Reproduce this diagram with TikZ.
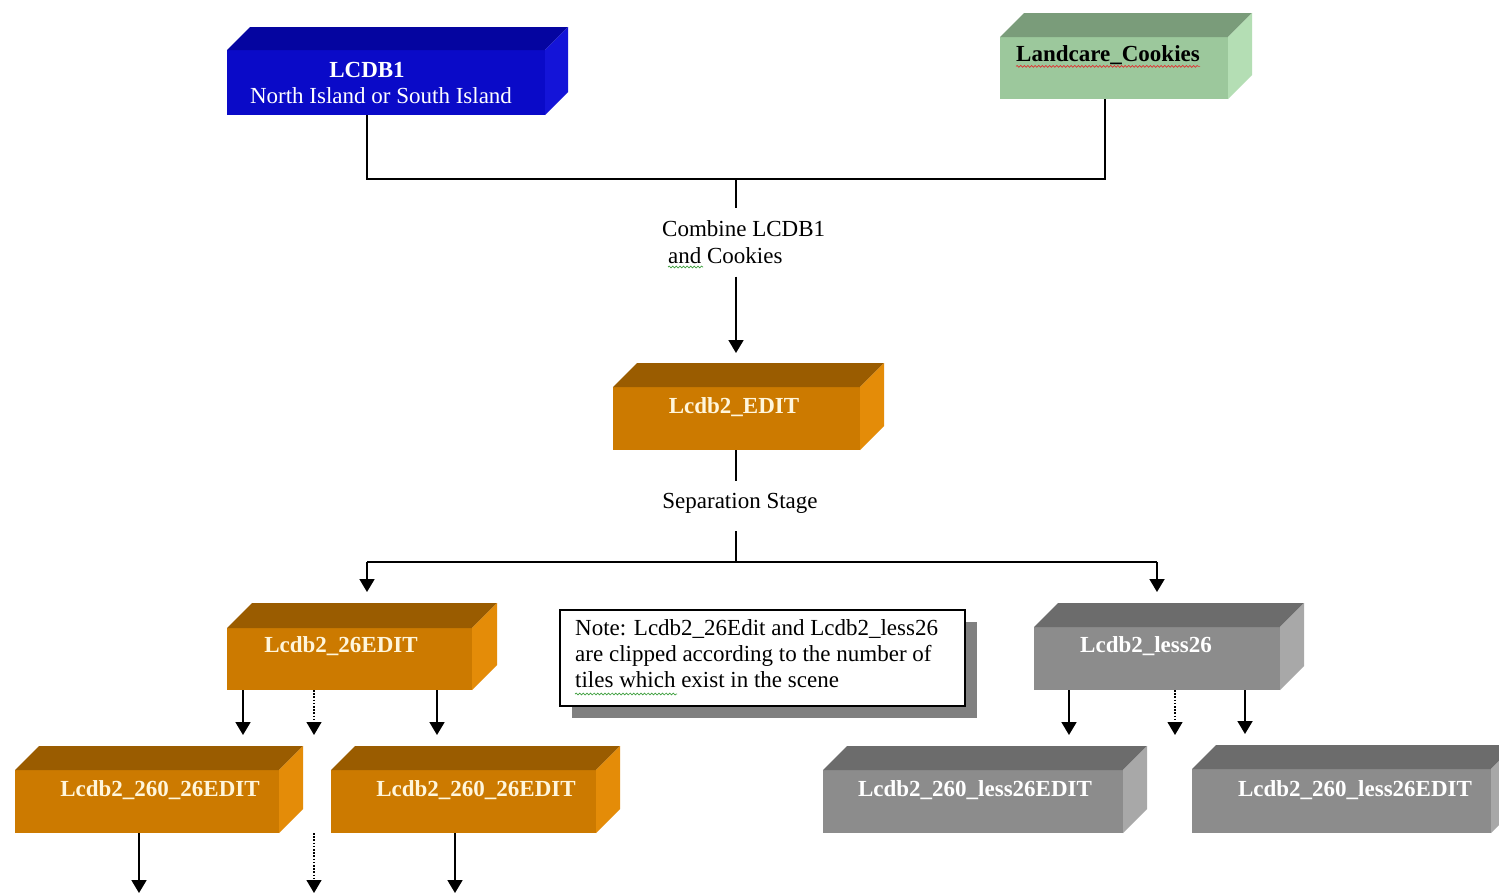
\documentclass[tikz,border=0pt]{standalone}
\usepackage{fontspec}
\setmainfont{Liberation Serif}
\usetikzlibrary{arrows.meta,shadows,decorations.pathmorphing,fit,calc}

\definecolor{blF}{HTML}{0A0AC8}
\definecolor{blT}{HTML}{0505A0}
\definecolor{blS}{HTML}{1414D8}
\definecolor{grF}{HTML}{9CC89C}
\definecolor{grT}{HTML}{7A9C7A}
\definecolor{grS}{HTML}{B4DEB4}
\definecolor{orF}{HTML}{CC7A00}
\definecolor{orT}{HTML}{9A5C00}
\definecolor{orS}{HTML}{E48C08}
\definecolor{gyF}{HTML}{8C8C8C}
\definecolor{gyT}{HTML}{6C6C6C}
\definecolor{gyS}{HTML}{A8A8A8}
\definecolor{cream}{HTML}{FFF6DC}
\definecolor{shade}{HTML}{808080}
\definecolor{spellred}{HTML}{E03030}
\definecolor{spellgreen}{HTML}{40A040}

% name, x1, y1 (front top), x2, y2 (front bottom), depth, colour prefix
\newcommand\solidbox[7]{%
  \coordinate (#1-a) at (#2,#3);
  \coordinate (#1-b) at (#4,#5);
  \node[inner sep=0pt, outer sep=0pt, fit=(#1-a)(#1-b), fill=#7F] (#1) {};
  \fill[#7T] (#1.north west) -- ($(#1.north west)+(#6pt,#6pt)$) -- ($(#1.north east)+(#6pt,#6pt)$) -- (#1.north east) -- cycle;
  \fill[#7S] (#1.north east) -- ($(#1.north east)+(#6pt,#6pt)$) -- ($(#1.south east)+(#6pt,#6pt)$) -- (#1.south east) -- cycle;
  \coordinate (#1-top) at ($(#1.north)+(0pt,#6pt)$);
}

\begin{document}
\begin{tikzpicture}[x=1pt,y=-1pt,
  conn/.style={line width=1.8pt},
  arr/.style={conn, -{Triangle[width=15pt,length=13pt]}},
  darr/.style={arr, line width=1.2pt, dash pattern=on 1.6pt off 1.6pt},
  boxlbl/.style={inner sep=0pt, font=\fontsize{23}{27}\selectfont\bfseries},
  txt/.style={inner sep=0pt, font=\fontsize{23}{27}\selectfont},
  wavy/.style={decorate, decoration={snake, amplitude=0.9pt, segment length=3.6pt}, line width=0.7pt}]

\useasboundingbox (0,0) rectangle (1499,895);
\fill[white] (0,0) rectangle (1499,895);

% boxes
\solidbox{lcdb}{227}{50}{545}{115}{23}{bl}
\solidbox{land}{1000}{37}{1228}{99}{24}{gr}
\solidbox{edit}{613}{387}{860}{450}{24}{or}
\solidbox{e26}{227}{628}{472}{690}{25}{or}
\solidbox{l26}{1034}{627}{1280}{690}{24}{gy}
\solidbox{e26a}{15}{770}{279}{833}{24}{or}
\solidbox{e26b}{331}{770}{596}{833}{24}{or}
\solidbox{l26a}{823}{770}{1123}{833}{24}{gy}
\solidbox{l26b}{1192}{769}{1491}{833}{24}{gy}

% box labels
\node[boxlbl, text=white] (lcdbT1) at (367,70) {LCDB1};
\node[txt, text=white] (lcdbT2) at (381,96) {North Island or South Island};
\node[boxlbl, text=black] (landT) at (1108,55) {Landcare\_Cookies};
\node[boxlbl, text=cream] (editT) at (734,407) {Lcdb2\_EDIT};
\node[boxlbl, text=cream] (e26T) at (341,646) {Lcdb2\_26EDIT};
\node[boxlbl, text=white] (l26T) at (1146,646) {Lcdb2\_less26};
\node[boxlbl, text=cream] (e26aT) at (160,790) {Lcdb2\_260\_26EDIT};
\node[boxlbl, text=cream] (e26bT) at (476,790) {Lcdb2\_260\_26EDIT};
\node[boxlbl, text=white] (l26aT) at (975,790) {Lcdb2\_260\_less26EDIT};
\node[boxlbl, text=white] (l26bT) at (1355,790) {Lcdb2\_260\_less26EDIT};
\draw[wavy, spellred] ($(landT.base west)+(0,5)$) -- ($(landT.base east)+(0,5)$);

% process labels
\node[txt, anchor=north west, align=left, inner ysep=12.5pt] (comb) at (662,208)
  {Combine LCDB1\\\hspace*{6pt}and Cookies};
\draw[wavy, spellgreen] ($(comb.north west)+(6,59)$) -- ($(comb.north west)+(41,59)$);
\node[txt, inner ysep=12pt] (sep) at (740,503) {Separation Stage};

% note
\node[draw=black, line width=1.3pt, fill=white, minimum width=405pt, minimum height=96pt,
      inner sep=0pt, drop shadow={shadow xshift=12pt, shadow yshift=-12pt, fill=shade, opacity=1}]
      (note) at (762.5,658) {};
\node[txt, anchor=north west, align=left, font=\fontsize{23}{26}\selectfont] (noteT) at (575,619)
  {Note: Lcdb2\_26Edit and Lcdb2\_less26\\are clipped according to the number of\\tiles which exist in the scene};
\draw[wavy, spellgreen] ($(noteT.north west)+(0,75)$) -- ($(noteT.north west)+(102,75)$);

% junctions
\coordinate (j1) at (367,179);
\coordinate (jm) at (736,179);
\coordinate (j2) at (1105,179);
\coordinate (k1) at (367,562);
\coordinate (km) at (736,562);
\coordinate (k2) at (1157,562);
\coordinate (bot) at (0,893);

% connectors top
\draw[conn] (j1 |- lcdb.south) -- (j1) -- (j2) -- (j2 |- land.south);
\draw[conn] (jm) -- (jm |- comb.north);
\draw[arr, shorten >=34pt] (jm |- comb.south) -- (jm |- edit.north);
\draw[conn] (km |- edit.south) -- (km |- sep.north);
\draw[conn] ($(km |- sep.south)+(0,6)$) -- (km);
\draw[conn] (k1) -- (k2);
\draw[arr, shorten >=11pt] (k1) -- (k1 |- e26-top);
\draw[arr, shorten >=11pt] (k2) -- (k2 |- l26-top);

% from Lcdb2_26EDIT
\coordinate (p1) at ($(e26.south west)+(16,0)$);
\coordinate (p2) at ($(e26.south west)+(87,0)$);
\coordinate (p3) at ($(e26.south west)+(210,0)$);
\draw[arr, shorten >=11pt] (p1) -- (p1 |- e26a-top);
\draw[darr, shorten >=11pt] (p2) -- (p2 |- e26a-top);
\draw[arr, shorten >=11pt] (p3) -- (p3 |- e26b-top);

% from Lcdb2_less26
\coordinate (r1) at ($(l26.south west)+(35,0)$);
\coordinate (r2) at ($(l26.south west)+(141,0)$);
\coordinate (r3) at ($(l26.south west)+(211,0)$);
\draw[arr, shorten >=11pt] (r1) -- (r1 |- l26a-top);
\draw[darr, shorten >=11pt] (r2) -- (r2 |- l26a-top);
\draw[arr, shorten >=11pt] (r3) -- (r3 |- l26b-top);

% bottom arrows
\coordinate (q1) at ($(e26a.south west)+(124,0)$);
\coordinate (q2) at ($(e26a.south east)+(35,0)$);
\coordinate (q3) at ($(e26b.south west)+(124,0)$);
\draw[arr] (q1) -- (q1 |- bot);
\draw[darr] (q2) -- (q2 |- bot);
\draw[arr] (q3) -- (q3 |- bot);
\end{tikzpicture}
\end{document}
